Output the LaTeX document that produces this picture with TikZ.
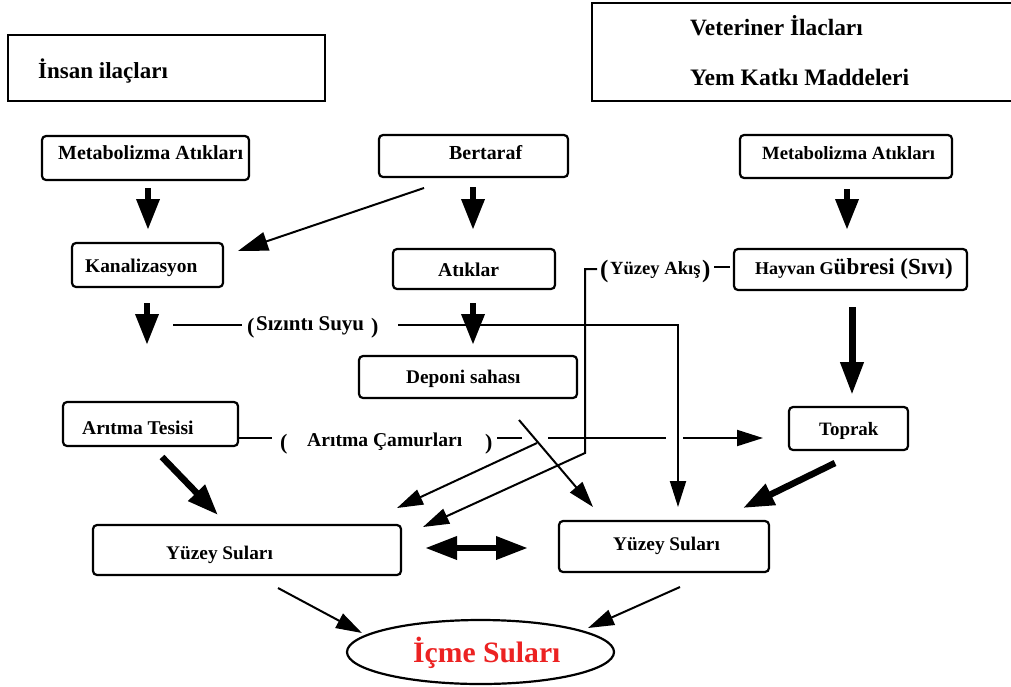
\documentclass[tikz,border=0pt]{standalone}
\usepackage{fontspec}
\setmainfont{Liberation Serif}
\usetikzlibrary{arrows.meta,shapes.geometric}
\definecolor{icred}{RGB}{236,34,34}
\tikzset{
  box/.style={draw, line width=2.2pt, rounded corners=4pt, inner sep=0pt},
  sqbox/.style={draw, line width=2.6pt, inner sep=0pt},
  txt/.style={inner sep=0pt, anchor=base west, font=\bfseries\fontsize{#1}{#1}\selectfont},
  ln/.style={line width=2pt},
  arr/.style={line width=2pt, -{Triangle[width=16pt,length=26pt]}},
  bigarr/.style={line width=2pt, -{Triangle[width=19pt,length=30pt]}},
  blk/.style={line width=6.5pt, -{Triangle[width=22pt,length=31pt]}},
  dblk/.style={line width=6.5pt, {Triangle[width=22pt,length=32pt]}-{Triangle[width=22pt,length=32pt]}},
}
\begin{document}
\begin{tikzpicture}[x=1pt,y=-1pt]
\useasboundingbox (0,0) rectangle (1011,686);
\fill[white] (0,0) rectangle (1011,686);

% boxes
\node[sqbox, minimum width=317pt, minimum height=66pt] (insan) at (166.5,68) {};
\node[sqbox, minimum width=438pt, minimum height=98pt] (vet) at (811,52) {};
\node[box, minimum width=207pt, minimum height=44pt] (metL) at (145.5,158) {};
\node[box, minimum width=189pt, minimum height=42pt] (bert) at (473.5,156) {};
\node[box, minimum width=212pt, minimum height=43pt] (metR) at (846,156.5) {};
\node[box, minimum width=151pt, minimum height=44pt] (kan) at (147.5,265) {};
\node[box, minimum width=162pt, minimum height=40pt] (atik) at (474,269) {};
\node[box, minimum width=233pt, minimum height=41pt] (hay) at (850.5,269.5) {};
\node[box, minimum width=218pt, minimum height=42pt] (dep) at (468,377) {};
\node[box, minimum width=175pt, minimum height=44pt] (arit) at (150.5,424) {};
\node[box, minimum width=119pt, minimum height=43pt] (topr) at (848.5,428.5) {};
\node[box, minimum width=308pt, minimum height=50pt] (ysL) at (247,550) {};
\node[box, minimum width=210pt, minimum height=51pt] (ysR) at (664,546.5) {};
\node[draw, ellipse, line width=2.2pt, minimum width=267pt, minimum height=64pt, inner sep=0pt] (icme) at (480.5,652) {};

% texts
\node[txt=23] (tInsan) at (38,78) {İnsan ilaçları};
\node[txt=23.4] (tVet) at (690,35) {Veteriner İlacları};
\node[txt=23.6] (tYem) at (690,85) {Yem Katkı Maddeleri};
\node[txt=20] (tMetL) at (58,159) {Metabolizma Atıkları};
\node[txt=19.9] (tBert) at (449,159) {Bertaraf};
\node[txt=18.7] (tMetR) at (762,159) {Metabolizma Atıkları};
\node[txt=19.4] (tKan) at (85,272) {Kanalizasyon};
\node[txt=19.6] (tAtik) at (438,276) {Atıklar};
\node[txt=18] (tHay) at (755,274) {Hayvan G{\fontsize{23}{23}\selectfont übresi (Sıvı)}};
\node[txt=19.3] (tDep) at (406,383) {Deponi sahası};
\node[txt=19.5] (tArit) at (82,434) {Arıtma Tesisi};
\node[txt=18.9] (tTop) at (819,435) {Toprak};
\node[txt=19.3] (tYsL) at (166,559) {Yüzey Suları};
\node[txt=19.3] (tYsR) at (613,550) {Yüzey Suları};
\node[txt=29.6, text=icred] (tIcme) at (413,662) {İçme Suları};

% flow labels
\node[txt=22] (sL) at (247,333) {(};
\node[txt=21] (sT) at (256,330) {Sızıntı Suyu};
\node[txt=22] (sR) at (371,333) {)};
\node[txt=22] (cL) at (280,449) {(};
\node[txt=19.6] (cT) at (307,446) {Arıtma Çamurları};
\node[txt=22] (cR) at (485,449) {)};
\node[txt=25] (aL) at (600,277) {(};
\node[txt=18.6] (aT) at (610,274) {Yüzey Akış};
\node[txt=25] (aR) at (702,277) {)};

% coordinates
\coordinate (s1) at (173,325); \coordinate (s2) at (242,325);
\coordinate (s3) at (398,325); \coordinate (s4) at (678,325); \coordinate (s5) at (678,507);
\coordinate (a0) at (714,267); \coordinate (a1) at (730,267);
\coordinate (a2) at (597,269); \coordinate (a3) at (585,269); \coordinate (a4) at (585,453); \coordinate (a5) at (423,527);
\coordinate (c1) at (238,438); \coordinate (c2) at (272,438);
\coordinate (c3) at (497,438); \coordinate (c4) at (522,438);
\coordinate (c5) at (548,438); \coordinate (c6) at (666,438);
\coordinate (c7) at (683,438); \coordinate (c8) at (763,438);
\coordinate (c9) at (537,443); \coordinate (c10) at (397,508);
\coordinate (d1) at (519,420); \coordinate (d2) at (593,507);

% block arrows
\draw[blk] (148,188) -- (148,230);
\draw[blk] (473,187) -- (473,230);
\draw[blk] (847,189) -- (847,230);
\draw[blk] (147,303) -- (147,345);
\draw[blk] (473,303) -- (473,345);
\draw[line width=7pt, -{Triangle[width=22pt,length=33pt]}] (852,307) -- (852,395);
\draw[blk] (162,457) -- (218,515);
\draw[blk] (835,463) -- (743,508);
\draw[dblk] (425,548) -- (528,548);

% thin connectors
\draw[bigarr] (424,188) -- (238,251);
\draw[ln] (s1) -- (s2);
\draw[arr] (s3) -- (s4) -- (s5);
\draw[ln] (a0) -- (a1);
\draw[arr] (a2) -- (a3) -- (a4) -- (a5);
\draw[ln] (c1) -- (c2);
\draw[ln] (c3) -- (c4);
\draw[ln] (c5) -- (c6);
\draw[arr] (c7) -- (c8);
\draw[arr] (c9) -- (c10);
\draw[arr] (d1) -- (d2);
\draw[arr] (278,588) -- (362,633);
\draw[arr] (680,587) -- (588,628);
\end{tikzpicture}
\end{document}
